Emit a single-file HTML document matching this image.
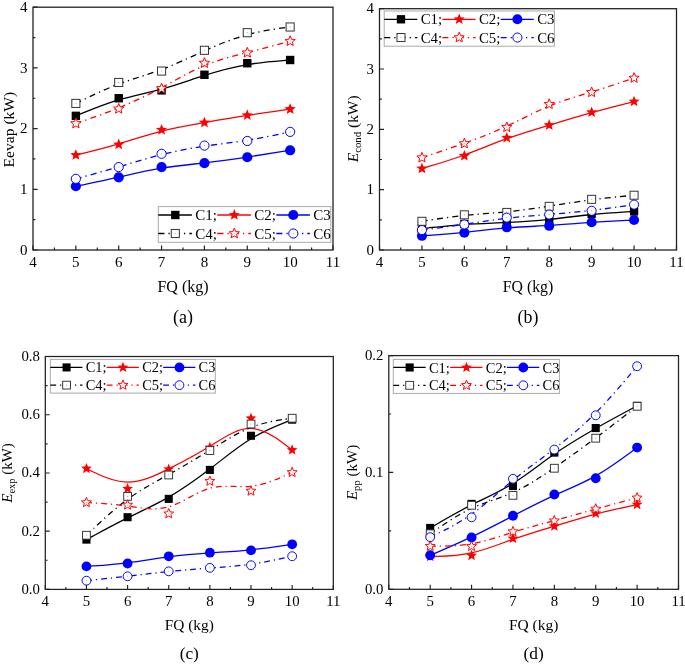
<!DOCTYPE html>
<html><head><meta charset="utf-8"><style>
html,body{margin:0;padding:0;background:#fff;width:685px;height:664px;overflow:hidden}
svg{display:block;will-change:transform}
text{font-family:"Liberation Serif", serif;fill:#000}
</style></head><body>
<svg width="685" height="664" viewBox="0 0 685 664">
<rect width="685" height="664" fill="#fff"/>
<g>
<path d="M75.86 115.85 C75.86 115.85 75.86 115.85 83 112.92 C90.14 109.99 104.43 104.12 118.71 99.87 C133 95.62 147.29 92.99 161.57 89.07 C175.86 85.16 190.14 79.96 204.43 75.44 C218.71 70.91 233 67.07 247.29 64.61 C261.57 62.15 275.86 61.08 283 60.55 C290.14 60.01 290.14 60.01 290.14 60.01" fill="none" stroke="#000000" stroke-width="1.3" stroke-linejoin="round"/>
<rect x="71.66" y="111.65" width="8.4" height="8.4" fill="#000000"/>
<rect x="114.51" y="94.05" width="8.4" height="8.4" fill="#000000"/>
<rect x="157.37" y="86.16" width="8.4" height="8.4" fill="#000000"/>
<rect x="200.23" y="70.56" width="8.4" height="8.4" fill="#000000"/>
<rect x="243.09" y="59.03" width="8.4" height="8.4" fill="#000000"/>
<rect x="285.94" y="55.81" width="8.4" height="8.4" fill="#000000"/>
<path d="M75.86 155.07 C75.86 155.07 75.86 155.07 83 153.3 C90.14 151.54 104.43 148.02 118.71 143.82 C133 139.61 147.29 134.71 161.57 131.05 C175.86 127.39 190.14 124.96 204.43 122.53 C218.71 120.1 233 117.67 247.29 115.45 C261.57 113.22 275.86 111.2 283 110.19 C290.14 109.18 290.14 109.18 290.14 109.18" fill="none" stroke="#FF0000" stroke-width="1.3" stroke-linejoin="round"/>
<path d="M75.86 149.17 L77.38 152.96 L81.47 153.24 L78.33 155.87 L79.33 159.84 L75.86 157.66 L72.39 159.84 L73.39 155.87 L70.25 153.24 L74.33 152.96Z" fill="#FF0000"/>
<path d="M118.71 138.6 L120.24 142.4 L124.33 142.68 L121.18 145.31 L122.18 149.28 L118.71 147.1 L115.25 149.28 L116.25 145.31 L113.1 142.68 L117.19 142.4Z" fill="#FF0000"/>
<path d="M161.57 123.91 L163.1 127.71 L167.18 127.99 L164.04 130.62 L165.04 134.59 L161.57 132.41 L158.1 134.59 L159.1 130.62 L155.96 127.99 L160.05 127.71Z" fill="#FF0000"/>
<path d="M204.43 116.63 L205.95 120.43 L210.04 120.71 L206.9 123.33 L207.9 127.3 L204.43 125.13 L200.96 127.3 L201.96 123.33 L198.82 120.71 L202.9 120.43Z" fill="#FF0000"/>
<path d="M247.29 109.35 L248.81 113.15 L252.9 113.42 L249.75 116.05 L250.75 120.02 L247.29 117.84 L243.82 120.02 L244.82 116.05 L241.67 113.42 L245.76 113.15Z" fill="#FF0000"/>
<path d="M290.14 103.28 L291.67 107.08 L295.75 107.35 L292.61 109.98 L293.61 113.95 L290.14 111.77 L286.67 113.95 L287.67 109.98 L284.53 107.35 L288.62 107.08Z" fill="#FF0000"/>
<path d="M75.86 186.26 C75.86 186.26 75.86 186.26 83 184.77 C90.14 183.27 104.43 180.28 118.71 177.08 C133 173.88 147.29 170.48 161.57 168.14 C175.86 165.79 190.14 164.49 204.43 162.86 C218.71 161.22 233 159.23 247.29 157.08 C261.57 154.92 275.86 152.6 283 151.43 C290.14 150.27 290.14 150.27 290.14 150.27" fill="none" stroke="#0000FF" stroke-width="1.3" stroke-linejoin="round"/>
<circle cx="75.86" cy="186.26" r="5.1" fill="#0000FF"/>
<circle cx="118.71" cy="177.28" r="5.1" fill="#0000FF"/>
<circle cx="161.57" cy="167.08" r="5.1" fill="#0000FF"/>
<circle cx="204.43" cy="163.2" r="5.1" fill="#0000FF"/>
<circle cx="247.29" cy="157.25" r="5.1" fill="#0000FF"/>
<circle cx="290.14" cy="150.27" r="5.1" fill="#0000FF"/>
<path d="M75.86 103.41 C75.86 103.41 75.86 103.41 83 99.92 C90.14 96.43 104.43 89.45 118.71 84.06 C133 78.66 147.29 74.86 161.57 69.5 C175.86 64.14 190.14 57.22 204.43 50.82 C218.71 44.43 233 38.56 247.29 34.68 C261.57 30.79 275.86 28.89 283 27.94 C290.14 26.99 290.14 26.99 290.14 26.99" fill="none" stroke="#000000" stroke-width="1.3" stroke-dasharray="6.1 4.05 1.3 4.05" stroke-linejoin="round"/>
<rect x="71.81" y="99.36" width="8.1" height="8.1" fill="#fff" stroke="#333" stroke-width="1"/><rect x="75.36" y="102.91" width="1" height="1" fill="#aaa"/>
<rect x="114.66" y="78.42" width="8.1" height="8.1" fill="#fff" stroke="#333" stroke-width="1"/><rect x="118.21" y="81.97" width="1" height="1" fill="#aaa"/>
<rect x="157.52" y="67.01" width="8.1" height="8.1" fill="#fff" stroke="#333" stroke-width="1"/><rect x="161.07" y="70.56" width="1" height="1" fill="#aaa"/>
<rect x="200.38" y="46.25" width="8.1" height="8.1" fill="#fff" stroke="#333" stroke-width="1"/><rect x="203.93" y="49.8" width="1" height="1" fill="#aaa"/>
<rect x="243.24" y="28.64" width="8.1" height="8.1" fill="#fff" stroke="#333" stroke-width="1"/><rect x="246.79" y="32.19" width="1" height="1" fill="#aaa"/>
<rect x="286.09" y="22.94" width="8.1" height="8.1" fill="#fff" stroke="#333" stroke-width="1"/><rect x="289.64" y="26.49" width="1" height="1" fill="#aaa"/>
<path d="M75.86 123.5 C75.86 123.5 75.86 123.5 83 121.05 C90.14 118.6 104.43 113.71 118.71 107.88 C133 102.05 147.29 95.3 161.57 87.67 C175.86 80.04 190.14 71.54 204.43 65.57 C218.71 59.6 233 56.16 247.29 52.52 C261.57 48.88 275.86 45.04 283 43.11 C290.14 41.19 290.14 41.19 290.14 41.19" fill="none" stroke="#FF0000" stroke-width="1.3" stroke-dasharray="6.1 4.05 1.3 4.05" stroke-linejoin="round"/>
<path d="M75.86 118.1 L77.25 121.58 L80.99 121.83 L78.12 124.24 L79.03 127.87 L75.86 125.88 L72.68 127.87 L73.6 124.24 L70.72 121.83 L74.46 121.58Z" fill="#fff" stroke="#FF0000" stroke-width="1" stroke-linejoin="miter"/><rect x="75.36" y="123" width="1" height="1" fill="#faa"/>
<path d="M118.71 103.41 L120.11 106.89 L123.85 107.14 L120.97 109.55 L121.89 113.18 L118.71 111.19 L115.54 113.18 L116.45 109.55 L113.58 107.14 L117.32 106.89Z" fill="#fff" stroke="#FF0000" stroke-width="1" stroke-linejoin="miter"/><rect x="118.21" y="108.31" width="1" height="1" fill="#faa"/>
<path d="M161.57 83.14 L162.97 86.62 L166.71 86.87 L163.83 89.27 L164.75 92.91 L161.57 90.91 L158.4 92.91 L159.31 89.27 L156.44 86.87 L160.17 86.62Z" fill="#fff" stroke="#FF0000" stroke-width="1" stroke-linejoin="miter"/><rect x="161.07" y="88.04" width="1" height="1" fill="#faa"/>
<path d="M204.43 57.64 L205.83 61.12 L209.56 61.38 L206.69 63.78 L207.6 67.41 L204.43 65.42 L201.25 67.41 L202.17 63.78 L199.29 61.38 L203.03 61.12Z" fill="#fff" stroke="#FF0000" stroke-width="1" stroke-linejoin="miter"/><rect x="203.93" y="62.54" width="1" height="1" fill="#faa"/>
<path d="M247.29 47.32 L248.68 50.8 L252.42 51.06 L249.55 53.46 L250.46 57.09 L247.29 55.1 L244.11 57.09 L245.03 53.46 L242.15 51.06 L245.89 50.8Z" fill="#fff" stroke="#FF0000" stroke-width="1" stroke-linejoin="miter"/><rect x="246.79" y="52.22" width="1" height="1" fill="#faa"/>
<path d="M290.14 35.79 L291.54 39.27 L295.28 39.52 L292.4 41.93 L293.32 45.56 L290.14 43.57 L286.97 45.56 L287.88 41.93 L285.01 39.52 L288.75 39.27Z" fill="#fff" stroke="#FF0000" stroke-width="1" stroke-linejoin="miter"/><rect x="289.64" y="40.69" width="1" height="1" fill="#faa"/>
<path d="M75.86 178.86 C75.86 178.86 75.86 178.86 83 176.9 C90.14 174.93 104.43 171.01 118.71 166.83 C133 162.65 147.29 158.22 161.57 154.64 C175.86 151.06 190.14 148.33 204.43 146.19 C218.71 144.06 233 142.52 247.29 140.23 C261.57 137.95 275.86 134.91 283 133.4 C290.14 131.88 290.14 131.88 290.14 131.88" fill="none" stroke="#0000FF" stroke-width="1.3" stroke-dasharray="6.1 4.05 1.3 4.05" stroke-linejoin="round"/>
<circle cx="75.86" cy="178.86" r="4.6" fill="#fff" stroke="#0000FF" stroke-width="1"/><rect x="75.36" y="178.36" width="1" height="1" fill="#aaf"/>
<circle cx="118.71" cy="167.08" r="4.6" fill="#fff" stroke="#0000FF" stroke-width="1"/><rect x="118.21" y="166.58" width="1" height="1" fill="#aaf"/>
<circle cx="161.57" cy="153.79" r="4.6" fill="#fff" stroke="#0000FF" stroke-width="1"/><rect x="161.07" y="153.29" width="1" height="1" fill="#aaf"/>
<circle cx="204.43" cy="145.6" r="4.6" fill="#fff" stroke="#0000FF" stroke-width="1"/><rect x="203.93" y="145.1" width="1" height="1" fill="#aaf"/>
<circle cx="247.29" cy="140.98" r="4.6" fill="#fff" stroke="#0000FF" stroke-width="1"/><rect x="246.79" y="140.48" width="1" height="1" fill="#aaf"/>
<circle cx="290.14" cy="131.88" r="4.6" fill="#fff" stroke="#0000FF" stroke-width="1"/><rect x="289.64" y="131.38" width="1" height="1" fill="#aaf"/>
</g>
<rect x="33" y="7.2" width="300" height="242.8" fill="none" stroke="#222" stroke-width="1.3"/>
<path d="M33 250V245.4 M75.86 250V245.4 M118.71 250V245.4 M161.57 250V245.4 M204.43 250V245.4 M247.29 250V245.4 M290.14 250V245.4 M333 250V245.4 M54.43 250V247.6 M97.29 250V247.6 M140.14 250V247.6 M183 250V247.6 M225.86 250V247.6 M268.71 250V247.6 M311.57 250V247.6 M33 250H37.6 M33 189.3H37.6 M33 128.6H37.6 M33 67.9H37.6 M33 7.2H37.6 M33 219.65H35.4 M33 158.95H35.4 M33 98.25H35.4 M33 37.55H35.4" stroke="#222" stroke-width="1.2" fill="none"/>
<text x="33" y="267" font-size="15" text-anchor="middle">4</text>
<text x="75.86" y="267" font-size="15" text-anchor="middle">5</text>
<text x="118.71" y="267" font-size="15" text-anchor="middle">6</text>
<text x="161.57" y="267" font-size="15" text-anchor="middle">7</text>
<text x="204.43" y="267" font-size="15" text-anchor="middle">8</text>
<text x="247.29" y="267" font-size="15" text-anchor="middle">9</text>
<text x="290.14" y="267" font-size="15" text-anchor="middle">10</text>
<text x="333" y="267" font-size="15" text-anchor="middle">11</text>
<text x="27.4" y="254.6" font-size="15" text-anchor="end">0</text>
<text x="27.4" y="193.9" font-size="15" text-anchor="end">1</text>
<text x="27.4" y="133.2" font-size="15" text-anchor="end">2</text>
<text x="27.4" y="72.5" font-size="15" text-anchor="end">3</text>
<text x="27.4" y="11.8" font-size="15" text-anchor="end">4</text>
<text x="183" y="292.2" font-size="16" text-anchor="middle">FQ (kg)</text>
<text x="183" y="323.4" font-size="18" text-anchor="middle">(a)</text>
<text transform="translate(13.8 129.6) rotate(-90)" font-size="15.6" text-anchor="middle">Eevap (kW)</text>
<rect x="158.3" y="206.6" width="172.5" height="35.7" fill="#fff" stroke="#aaa" stroke-width="1"/>
<path d="M158.3 215H191.9" stroke="#000000" stroke-width="1.3"/>
<rect x="171.1" y="210.8" width="8.4" height="8.4" fill="#000000"/>
<text x="195.3" y="220.2" font-size="15">C1;</text>
<path d="M217.3 215H250.9" stroke="#FF0000" stroke-width="1.3"/>
<path d="M234.3 209.1 L235.83 212.9 L239.91 213.18 L236.77 215.8 L237.77 219.77 L234.3 217.6 L230.83 219.77 L231.83 215.8 L228.69 213.18 L232.77 212.9Z" fill="#FF0000"/>
<text x="254.3" y="220.2" font-size="15">C2;</text>
<path d="M276.3 215H309.9" stroke="#0000FF" stroke-width="1.3"/>
<circle cx="293.3" cy="215" r="5.1" fill="#0000FF"/>
<text x="313.3" y="220.2" font-size="15">C3</text>
<path d="M158.3 233.5H191.9" stroke="#000000" stroke-width="1.3" stroke-dasharray="6.1 4.05 1.3 4.05"/>
<rect x="171.25" y="229.45" width="8.1" height="8.1" fill="#fff" stroke="#333" stroke-width="1"/><rect x="174.8" y="233" width="1" height="1" fill="#aaa"/>
<text x="195.3" y="238.7" font-size="15">C4;</text>
<path d="M217.3 233.5H250.9" stroke="#FF0000" stroke-width="1.3" stroke-dasharray="6.1 4.05 1.3 4.05"/>
<path d="M234.3 228.1 L235.7 231.58 L239.44 231.83 L236.56 234.23 L237.47 237.87 L234.3 235.88 L231.13 237.87 L232.04 234.23 L229.16 231.83 L232.9 231.58Z" fill="#fff" stroke="#FF0000" stroke-width="1" stroke-linejoin="miter"/><rect x="233.8" y="233" width="1" height="1" fill="#faa"/>
<text x="254.3" y="238.7" font-size="15">C5;</text>
<path d="M276.3 233.5H309.9" stroke="#0000FF" stroke-width="1.3" stroke-dasharray="6.1 4.05 1.3 4.05"/>
<circle cx="293.3" cy="233.5" r="4.6" fill="#fff" stroke="#0000FF" stroke-width="1"/><rect x="292.8" y="233" width="1" height="1" fill="#aaf"/>
<text x="313.3" y="238.7" font-size="15">C6</text>
<g>
<path d="M421.93 228.52 C421.93 228.52 421.93 228.52 429 227.77 C436.07 227.02 450.21 225.51 464.36 224.54 C478.5 223.58 492.64 223.16 506.79 222.46 C520.93 221.77 535.07 220.8 549.21 219.33 C563.36 217.87 577.5 215.9 591.64 214.49 C605.79 213.08 619.93 212.24 627 211.81 C634.07 211.39 634.07 211.39 634.07 211.39" fill="none" stroke="#000000" stroke-width="1.29" stroke-linejoin="round"/>
<rect x="417.77" y="224.37" width="8.32" height="8.32" fill="#000000"/>
<rect x="460.2" y="219.84" width="8.32" height="8.32" fill="#000000"/>
<rect x="502.63" y="218.58" width="8.32" height="8.32" fill="#000000"/>
<rect x="545.06" y="215.68" width="8.32" height="8.32" fill="#000000"/>
<rect x="587.48" y="209.77" width="8.32" height="8.32" fill="#000000"/>
<rect x="629.91" y="207.23" width="8.32" height="8.32" fill="#000000"/>
<path d="M421.93 168.56 C421.93 168.56 421.93 168.56 429 166.45 C436.07 164.34 450.21 160.12 464.36 154.99 C478.5 149.86 492.64 143.83 506.79 138.71 C520.93 133.59 535.07 129.39 549.21 125.14 C563.36 120.88 577.5 116.58 591.64 112.64 C605.79 108.7 619.93 105.12 627 103.33 C634.07 101.54 634.07 101.54 634.07 101.54" fill="none" stroke="#FF0000" stroke-width="1.29" stroke-linejoin="round"/>
<path d="M421.93 162.72 L423.44 166.48 L427.48 166.76 L424.37 169.36 L425.36 173.29 L421.93 171.13 L418.5 173.29 L419.48 169.36 L416.37 166.76 L420.42 166.48Z" fill="#FF0000"/>
<path d="M464.36 150.05 L465.87 153.81 L469.91 154.09 L466.8 156.69 L467.79 160.62 L464.36 158.46 L460.92 160.62 L461.91 156.69 L458.8 154.09 L462.85 153.81Z" fill="#FF0000"/>
<path d="M506.79 131.95 L508.3 135.72 L512.34 135.99 L509.23 138.59 L510.22 142.52 L506.79 140.37 L503.35 142.52 L504.34 138.59 L501.23 135.99 L505.28 135.72Z" fill="#FF0000"/>
<path d="M549.21 119.35 L550.72 123.11 L554.77 123.38 L551.66 125.98 L552.65 129.91 L549.21 127.76 L545.78 129.91 L546.77 125.98 L543.66 123.38 L547.7 123.11Z" fill="#FF0000"/>
<path d="M591.64 106.44 L593.15 110.2 L597.2 110.47 L594.09 113.07 L595.08 117 L591.64 114.85 L588.21 117 L589.2 113.07 L586.09 110.47 L590.13 110.2Z" fill="#FF0000"/>
<path d="M634.07 95.7 L635.58 99.46 L639.63 99.74 L636.52 102.33 L637.5 106.27 L634.07 104.11 L630.64 106.27 L631.63 102.33 L628.52 99.74 L632.56 99.46Z" fill="#FF0000"/>
<path d="M421.93 235.82 C421.93 235.82 421.93 235.82 429 235.3 C436.07 234.78 450.21 233.73 464.36 232.31 C478.5 230.9 492.64 229.11 506.79 227.96 C520.93 226.82 535.07 226.31 549.21 225.47 C563.36 224.62 577.5 223.44 591.64 222.47 C605.79 221.51 619.93 220.76 627 220.39 C634.07 220.02 634.07 220.02 634.07 220.02" fill="none" stroke="#0000FF" stroke-width="1.29" stroke-linejoin="round"/>
<circle cx="421.93" cy="235.82" r="5.05" fill="#0000FF"/>
<circle cx="464.36" cy="232.69" r="5.05" fill="#0000FF"/>
<circle cx="506.79" cy="227.32" r="5.05" fill="#0000FF"/>
<circle cx="549.21" cy="225.81" r="5.05" fill="#0000FF"/>
<circle cx="591.64" cy="222.25" r="5.05" fill="#0000FF"/>
<circle cx="634.07" cy="220.02" r="5.05" fill="#0000FF"/>
<path d="M421.93 221.29 C421.93 221.29 421.93 221.29 429 220.21 C436.07 219.13 450.21 216.98 464.36 215.5 C478.5 214.03 492.64 213.22 506.79 211.8 C520.93 210.39 535.07 208.36 549.21 206.17 C563.36 203.99 577.5 201.66 591.64 199.81 C605.79 197.96 619.93 196.59 627 195.91 C634.07 195.22 634.07 195.22 634.07 195.22" fill="none" stroke="#000000" stroke-width="1.29" stroke-dasharray="6.04 4.01 1.29 4.01" stroke-linejoin="round"/>
<rect x="417.92" y="217.28" width="8.02" height="8.02" fill="#fff" stroke="#333" stroke-width="0.99"/><rect x="421.43" y="220.79" width="1" height="1" fill="#aaa"/>
<rect x="460.35" y="210.82" width="8.02" height="8.02" fill="#fff" stroke="#333" stroke-width="0.99"/><rect x="463.86" y="214.33" width="1" height="1" fill="#aaa"/>
<rect x="502.78" y="208.41" width="8.02" height="8.02" fill="#fff" stroke="#333" stroke-width="0.99"/><rect x="506.29" y="211.92" width="1" height="1" fill="#aaa"/>
<rect x="545.2" y="202.32" width="8.02" height="8.02" fill="#fff" stroke="#333" stroke-width="0.99"/><rect x="548.71" y="205.82" width="1" height="1" fill="#aaa"/>
<rect x="587.63" y="195.32" width="8.02" height="8.02" fill="#fff" stroke="#333" stroke-width="0.99"/><rect x="591.14" y="198.83" width="1" height="1" fill="#aaa"/>
<rect x="630.06" y="191.22" width="8.02" height="8.02" fill="#fff" stroke="#333" stroke-width="0.99"/><rect x="633.57" y="194.72" width="1" height="1" fill="#aaa"/>
<path d="M421.93 157.7 C421.93 157.7 421.93 157.7 429 155.35 C436.07 153 450.21 148.29 464.36 143.22 C478.5 138.16 492.64 132.73 506.79 126.16 C520.93 119.6 535.07 111.9 549.21 106.06 C563.36 100.23 577.5 96.27 591.64 91.91 C605.79 87.54 619.93 82.78 627 80.4 C634.07 78.01 634.07 78.01 634.07 78.01" fill="none" stroke="#FF0000" stroke-width="1.29" stroke-dasharray="6.04 4.01 1.29 4.01" stroke-linejoin="round"/>
<path d="M421.93 152.36 L423.31 155.8 L427.01 156.05 L424.17 158.43 L425.07 162.03 L421.93 160.05 L418.79 162.03 L419.69 158.43 L416.84 156.05 L420.55 155.8Z" fill="#fff" stroke="#FF0000" stroke-width="0.99" stroke-linejoin="miter"/><rect x="421.43" y="157.2" width="1" height="1" fill="#faa"/>
<path d="M464.36 138.24 L465.74 141.68 L469.44 141.93 L466.59 144.31 L467.5 147.91 L464.36 145.94 L461.21 147.91 L462.12 144.31 L459.27 141.93 L462.97 141.68Z" fill="#fff" stroke="#FF0000" stroke-width="0.99" stroke-linejoin="miter"/><rect x="463.86" y="143.09" width="1" height="1" fill="#faa"/>
<path d="M506.79 121.95 L508.17 125.4 L511.87 125.65 L509.02 128.03 L509.93 131.62 L506.79 129.65 L503.64 131.62 L504.55 128.03 L501.7 125.65 L505.4 125.4Z" fill="#fff" stroke="#FF0000" stroke-width="0.99" stroke-linejoin="miter"/><rect x="506.29" y="126.8" width="1" height="1" fill="#faa"/>
<path d="M549.21 98.85 L550.6 102.29 L554.3 102.54 L551.45 104.92 L552.36 108.52 L549.21 106.55 L546.07 108.52 L546.98 104.92 L544.13 102.54 L547.83 102.29Z" fill="#fff" stroke="#FF0000" stroke-width="0.99" stroke-linejoin="miter"/><rect x="548.71" y="103.69" width="1" height="1" fill="#faa"/>
<path d="M591.64 86.96 L593.03 90.41 L596.73 90.66 L593.88 93.04 L594.79 96.64 L591.64 94.66 L588.5 96.64 L589.41 93.04 L586.56 90.66 L590.26 90.41Z" fill="#fff" stroke="#FF0000" stroke-width="0.99" stroke-linejoin="miter"/><rect x="591.14" y="91.81" width="1" height="1" fill="#faa"/>
<path d="M634.07 72.67 L635.45 76.11 L639.16 76.36 L636.31 78.74 L637.21 82.34 L634.07 80.37 L630.93 82.34 L631.83 78.74 L628.99 76.36 L632.69 76.11Z" fill="#fff" stroke="#FF0000" stroke-width="0.99" stroke-linejoin="miter"/><rect x="633.57" y="77.51" width="1" height="1" fill="#faa"/>
<path d="M421.93 230.09 C421.93 230.09 421.93 230.09 429 229.16 C436.07 228.22 450.21 226.35 464.36 224.27 C478.5 222.19 492.64 219.9 506.79 218.24 C520.93 216.58 535.07 215.55 549.21 214.42 C563.36 213.28 577.5 212.04 591.64 210.39 C605.79 208.74 619.93 206.69 627 205.66 C634.07 204.64 634.07 204.64 634.07 204.64" fill="none" stroke="#0000FF" stroke-width="1.29" stroke-dasharray="6.04 4.01 1.29 4.01" stroke-linejoin="round"/>
<circle cx="421.93" cy="230.09" r="4.55" fill="#fff" stroke="#0000FF" stroke-width="0.99"/><rect x="421.43" y="229.59" width="1" height="1" fill="#aaf"/>
<circle cx="464.36" cy="224.48" r="4.55" fill="#fff" stroke="#0000FF" stroke-width="0.99"/><rect x="463.86" y="223.98" width="1" height="1" fill="#aaf"/>
<circle cx="506.79" cy="217.61" r="4.55" fill="#fff" stroke="#0000FF" stroke-width="0.99"/><rect x="506.29" y="217.11" width="1" height="1" fill="#aaf"/>
<circle cx="549.21" cy="214.53" r="4.55" fill="#fff" stroke="#0000FF" stroke-width="0.99"/><rect x="548.71" y="214.03" width="1" height="1" fill="#aaf"/>
<circle cx="591.64" cy="210.79" r="4.55" fill="#fff" stroke="#0000FF" stroke-width="0.99"/><rect x="591.14" y="210.29" width="1" height="1" fill="#aaf"/>
<circle cx="634.07" cy="204.64" r="4.55" fill="#fff" stroke="#0000FF" stroke-width="0.99"/><rect x="633.57" y="204.14" width="1" height="1" fill="#aaf"/>
</g>
<rect x="379.5" y="8.7" width="297" height="241.3" fill="none" stroke="#222" stroke-width="1.29"/>
<path d="M379.5 250V245.45 M421.93 250V245.45 M464.36 250V245.45 M506.79 250V245.45 M549.21 250V245.45 M591.64 250V245.45 M634.07 250V245.45 M676.5 250V245.45 M400.71 250V247.62 M443.14 250V247.62 M485.57 250V247.62 M528 250V247.62 M570.43 250V247.62 M612.86 250V247.62 M655.29 250V247.62 M379.5 250H384.05 M379.5 189.68H384.05 M379.5 129.35H384.05 M379.5 69.02H384.05 M379.5 8.7H384.05 M379.5 219.84H381.88 M379.5 159.51H381.88 M379.5 99.19H381.88 M379.5 38.86H381.88" stroke="#222" stroke-width="1.19" fill="none"/>
<text x="379.5" y="266.83" font-size="14.85" text-anchor="middle">4</text>
<text x="421.93" y="266.83" font-size="14.85" text-anchor="middle">5</text>
<text x="464.36" y="266.83" font-size="14.85" text-anchor="middle">6</text>
<text x="506.79" y="266.83" font-size="14.85" text-anchor="middle">7</text>
<text x="549.21" y="266.83" font-size="14.85" text-anchor="middle">8</text>
<text x="591.64" y="266.83" font-size="14.85" text-anchor="middle">9</text>
<text x="634.07" y="266.83" font-size="14.85" text-anchor="middle">10</text>
<text x="676.5" y="266.83" font-size="14.85" text-anchor="middle">11</text>
<text x="373.96" y="254.55" font-size="14.85" text-anchor="end">0</text>
<text x="373.96" y="194.23" font-size="14.85" text-anchor="end">1</text>
<text x="373.96" y="133.9" font-size="14.85" text-anchor="end">2</text>
<text x="373.96" y="73.58" font-size="14.85" text-anchor="end">3</text>
<text x="373.96" y="13.25" font-size="14.85" text-anchor="end">4</text>
<text x="528" y="291.78" font-size="15.84" text-anchor="middle">FQ (kg)</text>
<text x="528" y="322.67" font-size="17.82" text-anchor="middle">(b)</text>
<text transform="translate(358.1 128.85) rotate(-90)" font-size="15.44" text-anchor="middle"><tspan font-style="italic">E</tspan><tspan font-size="10.81" dy="3.17">cond</tspan><tspan dy="-3.17"> (kW)</tspan></text>
<rect x="384.2" y="11" width="170.2" height="35.2" fill="#fff" stroke="#aaa" stroke-width="1"/>
<path d="M384.2 19.29H417.35" stroke="#000000" stroke-width="1.29"/>
<rect x="396.82" y="15.13" width="8.32" height="8.32" fill="#000000"/>
<text x="420.71" y="24.42" font-size="14.85">C1;</text>
<path d="M442.41 19.29H475.57" stroke="#FF0000" stroke-width="1.29"/>
<path d="M459.19 13.45 L460.7 17.21 L464.74 17.48 L461.63 20.08 L462.62 24.01 L459.19 21.86 L455.75 24.01 L456.74 20.08 L453.63 17.48 L457.68 17.21Z" fill="#FF0000"/>
<text x="478.92" y="24.42" font-size="14.85">C2;</text>
<path d="M500.63 19.29H533.78" stroke="#0000FF" stroke-width="1.29"/>
<circle cx="517.4" cy="19.29" r="5.05" fill="#0000FF"/>
<text x="537.13" y="24.42" font-size="14.85">C3</text>
<path d="M384.2 37.54H417.35" stroke="#000000" stroke-width="1.29" stroke-dasharray="6.04 4.01 1.29 4.01"/>
<rect x="396.96" y="33.53" width="8.02" height="8.02" fill="#fff" stroke="#333" stroke-width="0.99"/><rect x="400.47" y="37.04" width="1" height="1" fill="#aaa"/>
<text x="420.71" y="42.67" font-size="14.85">C4;</text>
<path d="M442.41 37.54H475.57" stroke="#FF0000" stroke-width="1.29" stroke-dasharray="6.04 4.01 1.29 4.01"/>
<path d="M459.19 32.2 L460.57 35.64 L464.27 35.89 L461.42 38.27 L462.33 41.87 L459.19 39.89 L456.04 41.87 L456.95 38.27 L454.1 35.89 L457.8 35.64Z" fill="#fff" stroke="#FF0000" stroke-width="0.99" stroke-linejoin="miter"/><rect x="458.69" y="37.04" width="1" height="1" fill="#faa"/>
<text x="478.92" y="42.67" font-size="14.85">C5;</text>
<path d="M500.63 37.54H533.78" stroke="#0000FF" stroke-width="1.29" stroke-dasharray="6.04 4.01 1.29 4.01"/>
<circle cx="517.4" cy="37.54" r="4.55" fill="#fff" stroke="#0000FF" stroke-width="0.99"/><rect x="516.9" y="37.04" width="1" height="1" fill="#aaf"/>
<text x="537.13" y="42.67" font-size="14.85">C6</text>
<g>
<path d="M86.44 539.62 C86.44 539.62 86.44 539.62 93.3 535.88 C100.16 532.15 113.87 524.67 127.59 517.88 C141.3 511.09 155.01 504.97 168.73 497.09 C182.44 489.2 196.16 479.55 209.87 469.03 C223.59 458.52 237.3 447.15 251.01 438.78 C264.73 430.41 278.44 425.04 285.3 422.36 C292.16 419.67 292.16 419.67 292.16 419.67" fill="none" stroke="#000000" stroke-width="1.25" stroke-linejoin="round"/>
<rect x="82.41" y="535.59" width="8.06" height="8.06" fill="#000000"/>
<rect x="123.55" y="513.17" width="8.06" height="8.06" fill="#000000"/>
<rect x="164.7" y="494.83" width="8.06" height="8.06" fill="#000000"/>
<rect x="205.84" y="465.86" width="8.06" height="8.06" fill="#000000"/>
<rect x="246.98" y="431.74" width="8.06" height="8.06" fill="#000000"/>
<rect x="288.13" y="415.64" width="8.06" height="8.06" fill="#000000"/>
<path d="M86.44 468.58 C86.44 468.58 86.44 468.58 93.3 471.95 C100.16 475.32 113.87 482.05 127.59 482.15 C141.3 482.25 155.01 475.71 168.73 468.82 C182.44 461.94 196.16 454.71 209.87 446.24 C223.59 437.77 237.3 428.07 251.01 428.48 C264.73 428.89 278.44 439.42 285.3 444.69 C292.16 449.95 292.16 449.95 292.16 449.95" fill="none" stroke="#FF0000" stroke-width="1.25" stroke-linejoin="round"/>
<path d="M86.44 462.92 L87.91 466.57 L91.83 466.83 L88.81 469.35 L89.77 473.17 L86.44 471.08 L83.11 473.17 L84.07 469.35 L81.06 466.83 L84.98 466.57Z" fill="#FF0000"/>
<path d="M127.59 483.12 L129.05 486.77 L132.97 487.04 L129.96 489.56 L130.91 493.37 L127.59 491.28 L124.26 493.37 L125.22 489.56 L122.2 487.04 L126.12 486.77Z" fill="#FF0000"/>
<path d="M168.73 463.5 L170.19 467.15 L174.12 467.42 L171.1 469.94 L172.06 473.75 L168.73 471.66 L165.4 473.75 L166.36 469.94 L163.34 467.42 L167.26 467.15Z" fill="#FF0000"/>
<path d="M209.87 441.81 L211.34 445.46 L215.26 445.73 L212.24 448.25 L213.2 452.06 L209.87 449.97 L206.54 452.06 L207.5 448.25 L204.48 445.73 L208.41 445.46Z" fill="#FF0000"/>
<path d="M251.01 412.7 L252.48 416.35 L256.4 416.61 L253.38 419.13 L254.34 422.95 L251.01 420.86 L247.69 422.95 L248.64 419.13 L245.63 416.61 L249.55 416.35Z" fill="#FF0000"/>
<path d="M292.16 444.29 L293.62 447.93 L297.54 448.2 L294.53 450.72 L295.49 454.53 L292.16 452.44 L288.83 454.53 L289.79 450.72 L286.77 448.2 L290.69 447.93Z" fill="#FF0000"/>
<path d="M86.44 566.4 C86.44 566.4 86.44 566.4 93.3 565.92 C100.16 565.43 113.87 564.46 127.59 562.78 C141.3 561.09 155.01 558.7 168.73 556.9 C182.44 555.11 196.16 553.91 209.87 552.93 C223.59 551.94 237.3 551.17 251.01 549.76 C264.73 548.35 278.44 546.31 285.3 545.29 C292.16 544.28 292.16 544.28 292.16 544.28" fill="none" stroke="#0000FF" stroke-width="1.25" stroke-linejoin="round"/>
<circle cx="86.44" cy="566.4" r="4.9" fill="#0000FF"/>
<circle cx="127.59" cy="563.49" r="4.9" fill="#0000FF"/>
<circle cx="168.73" cy="556.3" r="4.9" fill="#0000FF"/>
<circle cx="209.87" cy="552.72" r="4.9" fill="#0000FF"/>
<circle cx="251.01" cy="550.39" r="4.9" fill="#0000FF"/>
<circle cx="292.16" cy="544.28" r="4.9" fill="#0000FF"/>
<path d="M86.44 535.25 C86.44 535.25 86.44 535.25 93.3 528.77 C100.16 522.3 113.87 509.34 127.59 499.3 C141.3 489.25 155.01 482.12 168.73 474.48 C182.44 466.84 196.16 458.68 209.87 450.19 C223.59 441.7 237.3 432.87 251.01 427.49 C264.73 422.1 278.44 420.16 285.3 419.19 C292.16 418.22 292.16 418.22 292.16 418.22" fill="none" stroke="#000000" stroke-width="1.25" stroke-dasharray="5.86 3.89 1.25 3.89" stroke-linejoin="round"/>
<rect x="82.55" y="531.36" width="7.78" height="7.78" fill="#fff" stroke="#333" stroke-width="0.96"/><rect x="85.94" y="534.75" width="1" height="1" fill="#aaa"/>
<rect x="123.7" y="492.5" width="7.78" height="7.78" fill="#fff" stroke="#333" stroke-width="0.96"/><rect x="127.09" y="495.89" width="1" height="1" fill="#aaa"/>
<rect x="164.84" y="471.1" width="7.78" height="7.78" fill="#fff" stroke="#333" stroke-width="0.96"/><rect x="168.23" y="474.49" width="1" height="1" fill="#aaa"/>
<rect x="205.98" y="446.65" width="7.78" height="7.78" fill="#fff" stroke="#333" stroke-width="0.96"/><rect x="209.37" y="450.03" width="1" height="1" fill="#aaa"/>
<rect x="247.13" y="420.15" width="7.78" height="7.78" fill="#fff" stroke="#333" stroke-width="0.96"/><rect x="250.51" y="423.54" width="1" height="1" fill="#aaa"/>
<rect x="288.27" y="414.33" width="7.78" height="7.78" fill="#fff" stroke="#333" stroke-width="0.96"/><rect x="291.66" y="417.72" width="1" height="1" fill="#aaa"/>
<path d="M86.44 502.5 C86.44 502.5 86.44 502.5 93.3 502.91 C100.16 503.32 113.87 504.15 127.59 506.02 C141.3 507.88 155.01 510.8 168.73 506.83 C182.44 502.87 196.16 492.03 209.87 488.24 C223.59 484.46 237.3 487.73 251.01 486.26 C264.73 484.79 278.44 478.58 285.3 475.47 C292.16 472.37 292.16 472.37 292.16 472.37" fill="none" stroke="#FF0000" stroke-width="1.25" stroke-dasharray="5.86 3.89 1.25 3.89" stroke-linejoin="round"/>
<path d="M86.44 497.32 L87.78 500.65 L91.37 500.9 L88.61 503.2 L89.49 506.69 L86.44 504.78 L83.4 506.69 L84.27 503.2 L81.51 500.9 L85.1 500.65Z" fill="#fff" stroke="#FF0000" stroke-width="0.96" stroke-linejoin="miter"/><rect x="85.94" y="502" width="1" height="1" fill="#faa"/>
<path d="M127.59 499.79 L128.93 503.13 L132.52 503.37 L129.76 505.68 L130.63 509.17 L127.59 507.25 L124.54 509.17 L125.42 505.68 L122.66 503.37 L126.24 503.13Z" fill="#fff" stroke="#FF0000" stroke-width="0.96" stroke-linejoin="miter"/><rect x="127.09" y="504.47" width="1" height="1" fill="#faa"/>
<path d="M168.73 508.52 L170.07 511.86 L173.66 512.11 L170.9 514.41 L171.78 517.9 L168.73 515.99 L165.68 517.9 L166.56 514.41 L163.8 512.11 L167.39 511.86Z" fill="#fff" stroke="#FF0000" stroke-width="0.96" stroke-linejoin="miter"/><rect x="168.23" y="513.21" width="1" height="1" fill="#faa"/>
<path d="M209.87 476 L211.21 479.34 L214.8 479.59 L212.04 481.89 L212.92 485.38 L209.87 483.47 L206.82 485.38 L207.7 481.89 L204.94 479.59 L208.53 479.34Z" fill="#fff" stroke="#FF0000" stroke-width="0.96" stroke-linejoin="miter"/><rect x="209.37" y="480.69" width="1" height="1" fill="#faa"/>
<path d="M251.01 485.82 L252.36 489.15 L255.94 489.4 L253.18 491.7 L254.06 495.19 L251.01 493.28 L247.97 495.19 L248.84 491.7 L246.08 489.4 L249.67 489.15Z" fill="#fff" stroke="#FF0000" stroke-width="0.96" stroke-linejoin="miter"/><rect x="250.51" y="490.5" width="1" height="1" fill="#faa"/>
<path d="M292.16 467.18 L293.5 470.52 L297.09 470.77 L294.33 473.07 L295.2 476.56 L292.16 474.65 L289.11 476.56 L289.99 473.07 L287.23 470.77 L290.82 470.52Z" fill="#fff" stroke="#FF0000" stroke-width="0.96" stroke-linejoin="miter"/><rect x="291.66" y="471.87" width="1" height="1" fill="#faa"/>
<path d="M86.44 580.67 C86.44 580.67 86.44 580.67 93.3 579.94 C100.16 579.21 113.87 577.75 127.59 576.2 C141.3 574.65 155.01 573 168.73 571.59 C182.44 570.19 196.16 569.02 209.87 568 C223.59 566.98 237.3 566.11 251.01 564.17 C264.73 562.23 278.44 559.22 285.3 557.72 C292.16 556.21 292.16 556.21 292.16 556.21" fill="none" stroke="#0000FF" stroke-width="1.25" stroke-dasharray="5.86 3.89 1.25 3.89" stroke-linejoin="round"/>
<circle cx="86.44" cy="580.67" r="4.42" fill="#fff" stroke="#0000FF" stroke-width="0.96"/><rect x="85.94" y="580.17" width="1" height="1" fill="#aaf"/>
<circle cx="127.59" cy="576.3" r="4.42" fill="#fff" stroke="#0000FF" stroke-width="0.96"/><rect x="127.09" y="575.8" width="1" height="1" fill="#aaf"/>
<circle cx="168.73" cy="571.35" r="4.42" fill="#fff" stroke="#0000FF" stroke-width="0.96"/><rect x="168.23" y="570.85" width="1" height="1" fill="#aaf"/>
<circle cx="209.87" cy="567.86" r="4.42" fill="#fff" stroke="#0000FF" stroke-width="0.96"/><rect x="209.37" y="567.36" width="1" height="1" fill="#aaf"/>
<circle cx="251.01" cy="565.24" r="4.42" fill="#fff" stroke="#0000FF" stroke-width="0.96"/><rect x="250.51" y="564.74" width="1" height="1" fill="#aaf"/>
<circle cx="292.16" cy="556.21" r="4.42" fill="#fff" stroke="#0000FF" stroke-width="0.96"/><rect x="291.66" y="555.71" width="1" height="1" fill="#aaf"/>
</g>
<rect x="45.3" y="356.5" width="288" height="232.9" fill="none" stroke="#222" stroke-width="1.25"/>
<path d="M45.3 589.4V584.98 M86.44 589.4V584.98 M127.59 589.4V584.98 M168.73 589.4V584.98 M209.87 589.4V584.98 M251.01 589.4V584.98 M292.16 589.4V584.98 M333.3 589.4V584.98 M65.87 589.4V587.1 M107.01 589.4V587.1 M148.16 589.4V587.1 M189.3 589.4V587.1 M230.44 589.4V587.1 M271.59 589.4V587.1 M312.73 589.4V587.1 M45.3 589.4H49.72 M45.3 531.17H49.72 M45.3 472.95H49.72 M45.3 414.73H49.72 M45.3 356.5H49.72 M45.3 560.29H47.6 M45.3 502.06H47.6 M45.3 443.84H47.6 M45.3 385.61H47.6" stroke="#222" stroke-width="1.15" fill="none"/>
<text x="45.3" y="605.72" font-size="14.8" text-anchor="middle">4</text>
<text x="86.44" y="605.72" font-size="14.8" text-anchor="middle">5</text>
<text x="127.59" y="605.72" font-size="14.8" text-anchor="middle">6</text>
<text x="168.73" y="605.72" font-size="14.8" text-anchor="middle">7</text>
<text x="209.87" y="605.72" font-size="14.8" text-anchor="middle">8</text>
<text x="251.01" y="605.72" font-size="14.8" text-anchor="middle">9</text>
<text x="292.16" y="605.72" font-size="14.8" text-anchor="middle">10</text>
<text x="333.3" y="605.72" font-size="14.8" text-anchor="middle">11</text>
<text x="39.92" y="593.82" font-size="14.8" text-anchor="end">0.0</text>
<text x="39.92" y="535.59" font-size="14.8" text-anchor="end">0.2</text>
<text x="39.92" y="477.37" font-size="14.8" text-anchor="end">0.4</text>
<text x="39.92" y="419.14" font-size="14.8" text-anchor="end">0.6</text>
<text x="39.92" y="360.92" font-size="14.8" text-anchor="end">0.8</text>
<text x="189.3" y="629.91" font-size="15.36" text-anchor="middle">FQ (kg)</text>
<text x="189.3" y="658.86" font-size="17.28" text-anchor="middle">(c)</text>
<text transform="translate(12 472.95) rotate(-90)" font-size="14.98" text-anchor="middle"><tspan font-style="italic">E</tspan><tspan font-size="10.48" dy="3.07">exp</tspan><tspan dy="-3.07"> (kW)</tspan></text>
<rect x="50.3" y="359.4" width="165" height="33.7" fill="#fff" stroke="#aaa" stroke-width="1"/>
<path d="M50.3 367.43H82.44" stroke="#000000" stroke-width="1.25"/>
<rect x="62.53" y="363.4" width="8.06" height="8.06" fill="#000000"/>
<text x="85.69" y="372.41" font-size="14.4">C1;</text>
<path d="M106.73 367.43H138.87" stroke="#FF0000" stroke-width="1.25"/>
<path d="M123 361.77 L124.46 365.42 L128.38 365.68 L125.37 368.2 L126.32 372.02 L123 369.93 L119.67 372.02 L120.63 368.2 L117.61 365.68 L121.53 365.42Z" fill="#FF0000"/>
<text x="142.13" y="372.41" font-size="14.4">C2;</text>
<path d="M163.17 367.43H195.31" stroke="#0000FF" stroke-width="1.25"/>
<circle cx="179.43" cy="367.43" r="4.9" fill="#0000FF"/>
<text x="198.56" y="372.41" font-size="14.4">C3</text>
<path d="M50.3 385.13H82.44" stroke="#000000" stroke-width="1.25" stroke-dasharray="5.86 3.89 1.25 3.89"/>
<rect x="62.67" y="381.24" width="7.78" height="7.78" fill="#fff" stroke="#333" stroke-width="0.96"/><rect x="66.06" y="384.63" width="1" height="1" fill="#aaa"/>
<text x="85.69" y="390.1" font-size="14.4">C4;</text>
<path d="M106.73 385.13H138.87" stroke="#FF0000" stroke-width="1.25" stroke-dasharray="5.86 3.89 1.25 3.89"/>
<path d="M123 379.95 L124.34 383.29 L127.93 383.53 L125.16 385.84 L126.04 389.32 L123 387.41 L119.95 389.32 L120.83 385.84 L118.07 383.53 L121.65 383.29Z" fill="#fff" stroke="#FF0000" stroke-width="0.96" stroke-linejoin="miter"/><rect x="122.5" y="384.63" width="1" height="1" fill="#faa"/>
<text x="142.13" y="390.1" font-size="14.4">C5;</text>
<path d="M163.17 385.13H195.31" stroke="#0000FF" stroke-width="1.25" stroke-dasharray="5.86 3.89 1.25 3.89"/>
<circle cx="179.43" cy="385.13" r="4.42" fill="#fff" stroke="#0000FF" stroke-width="0.96"/><rect x="178.93" y="384.63" width="1" height="1" fill="#aaf"/>
<text x="198.56" y="390.1" font-size="14.4">C6</text>
<g>
<path d="M430.19 527.95 C430.19 527.95 430.19 527.95 437.08 523.94 C443.98 519.93 457.78 511.91 471.57 504.91 C485.37 497.92 499.16 491.96 512.96 483.41 C526.75 474.86 540.55 463.73 554.34 454.07 C568.14 444.41 581.93 436.23 595.73 428.44 C609.52 420.65 623.32 413.25 630.22 409.55 C637.11 405.85 637.11 405.85 637.11 405.85" fill="none" stroke="#000000" stroke-width="1.26" stroke-linejoin="round"/>
<rect x="426.13" y="523.9" width="8.11" height="8.11" fill="#000000"/>
<rect x="467.51" y="499.83" width="8.11" height="8.11" fill="#000000"/>
<rect x="508.9" y="481.95" width="8.11" height="8.11" fill="#000000"/>
<rect x="550.29" y="448.53" width="8.11" height="8.11" fill="#000000"/>
<rect x="591.67" y="423.99" width="8.11" height="8.11" fill="#000000"/>
<rect x="633.06" y="401.79" width="8.11" height="8.11" fill="#000000"/>
<path d="M430.19 556.58 C430.19 556.58 430.19 556.58 437.08 556.41 C443.98 556.23 457.78 555.88 471.57 552.86 C485.37 549.84 499.16 544.16 512.96 539.27 C526.75 534.38 540.55 530.29 554.34 526.1 C568.14 521.92 581.93 517.63 595.73 514.03 C609.52 510.43 623.32 507.5 630.22 506.04 C637.11 504.58 637.11 504.58 637.11 504.58" fill="none" stroke="#FF0000" stroke-width="1.26" stroke-linejoin="round"/>
<path d="M430.19 550.88 L431.66 554.55 L435.61 554.82 L432.57 557.36 L433.54 561.19 L430.19 559.09 L426.84 561.19 L427.8 557.36 L424.77 554.82 L428.71 554.55Z" fill="#FF0000"/>
<path d="M471.57 549.83 L473.05 553.5 L476.99 553.77 L473.96 556.31 L474.92 560.14 L471.57 558.04 L468.22 560.14 L469.19 556.31 L466.15 553.77 L470.1 553.5Z" fill="#FF0000"/>
<path d="M512.96 532.77 L514.43 536.44 L518.38 536.71 L515.34 539.25 L516.31 543.08 L512.96 540.98 L509.61 543.08 L510.57 539.25 L507.54 536.71 L511.48 536.44Z" fill="#FF0000"/>
<path d="M554.34 520.5 L555.82 524.17 L559.76 524.44 L556.73 526.98 L557.69 530.81 L554.34 528.71 L550.99 530.81 L551.96 526.98 L548.92 524.44 L552.87 524.17Z" fill="#FF0000"/>
<path d="M595.73 507.65 L597.2 511.32 L601.15 511.59 L598.11 514.12 L599.08 517.96 L595.73 515.86 L592.38 517.96 L593.34 514.12 L590.31 511.59 L594.25 511.32Z" fill="#FF0000"/>
<path d="M637.11 498.88 L638.59 502.55 L642.53 502.82 L639.5 505.36 L640.46 509.19 L637.11 507.09 L633.76 509.19 L634.73 505.36 L631.69 502.82 L635.64 502.55Z" fill="#FF0000"/>
<path d="M430.19 555.3 C430.19 555.3 430.19 555.3 437.08 552.34 C443.98 549.38 457.78 543.46 471.57 536.87 C485.37 530.29 499.16 523.05 512.96 515.88 C526.75 508.71 540.55 501.62 554.34 495.37 C568.14 489.12 581.93 483.71 595.73 475.88 C609.52 468.05 623.32 457.8 630.22 452.68 C637.11 447.56 637.11 447.56 637.11 447.56" fill="none" stroke="#0000FF" stroke-width="1.26" stroke-linejoin="round"/>
<circle cx="430.19" cy="555.3" r="4.93" fill="#0000FF"/>
<circle cx="471.57" cy="537.54" r="4.93" fill="#0000FF"/>
<circle cx="512.96" cy="515.8" r="4.93" fill="#0000FF"/>
<circle cx="554.34" cy="494.53" r="4.93" fill="#0000FF"/>
<circle cx="595.73" cy="478.29" r="4.93" fill="#0000FF"/>
<circle cx="637.11" cy="447.56" r="4.93" fill="#0000FF"/>
<path d="M430.19 533.8 C430.19 533.8 430.19 533.8 437.08 529.04 C443.98 524.29 457.78 514.79 471.57 508.38 C485.37 501.97 499.16 498.66 512.96 492.49 C526.75 486.32 540.55 477.28 554.34 467.76 C568.14 458.23 581.93 448.22 595.73 437.9 C609.52 427.58 623.32 416.95 630.22 411.63 C637.11 406.31 637.11 406.31 637.11 406.31" fill="none" stroke="#000000" stroke-width="1.26" stroke-dasharray="5.89 3.91 1.26 3.91" stroke-linejoin="round"/>
<rect x="426.27" y="529.88" width="7.82" height="7.82" fill="#fff" stroke="#333" stroke-width="0.97"/><rect x="429.69" y="533.3" width="1" height="1" fill="#aaa"/>
<rect x="467.66" y="501.37" width="7.82" height="7.82" fill="#fff" stroke="#333" stroke-width="0.97"/><rect x="471.07" y="504.78" width="1" height="1" fill="#aaa"/>
<rect x="509.04" y="491.44" width="7.82" height="7.82" fill="#fff" stroke="#333" stroke-width="0.97"/><rect x="512.46" y="494.85" width="1" height="1" fill="#aaa"/>
<rect x="550.43" y="464.33" width="7.82" height="7.82" fill="#fff" stroke="#333" stroke-width="0.97"/><rect x="553.84" y="467.74" width="1" height="1" fill="#aaa"/>
<rect x="591.82" y="434.3" width="7.82" height="7.82" fill="#fff" stroke="#333" stroke-width="0.97"/><rect x="595.23" y="437.71" width="1" height="1" fill="#aaa"/>
<rect x="633.2" y="402.4" width="7.82" height="7.82" fill="#fff" stroke="#333" stroke-width="0.97"/><rect x="636.61" y="405.81" width="1" height="1" fill="#aaa"/>
<path d="M430.19 546.18 C430.19 546.18 430.19 546.18 437.08 546.2 C443.98 546.22 457.78 546.26 471.57 543.83 C485.37 541.39 499.16 536.48 512.96 532.22 C526.75 527.95 540.55 524.33 554.34 520.55 C568.14 516.78 581.93 512.84 595.73 509.02 C609.52 505.21 623.32 501.51 630.22 499.66 C637.11 497.81 637.11 497.81 637.11 497.81" fill="none" stroke="#FF0000" stroke-width="1.26" stroke-dasharray="5.89 3.91 1.26 3.91" stroke-linejoin="round"/>
<path d="M430.19 540.97 L431.53 544.33 L435.15 544.57 L432.37 546.89 L433.25 550.4 L430.19 548.48 L427.12 550.4 L428 546.89 L425.22 544.57 L428.84 544.33Z" fill="#fff" stroke="#FF0000" stroke-width="0.97" stroke-linejoin="miter"/><rect x="429.69" y="545.68" width="1" height="1" fill="#faa"/>
<path d="M471.57 541.08 L472.92 544.44 L476.53 544.69 L473.75 547.01 L474.64 550.52 L471.57 548.59 L468.51 550.52 L469.39 547.01 L466.61 544.69 L470.22 544.44Z" fill="#fff" stroke="#FF0000" stroke-width="0.97" stroke-linejoin="miter"/><rect x="471.07" y="545.8" width="1" height="1" fill="#faa"/>
<path d="M512.96 526.36 L514.31 529.72 L517.92 529.96 L515.14 532.29 L516.02 535.8 L512.96 533.87 L509.89 535.8 L510.77 532.29 L508 529.96 L511.61 529.72Z" fill="#fff" stroke="#FF0000" stroke-width="0.97" stroke-linejoin="miter"/><rect x="512.46" y="531.08" width="1" height="1" fill="#faa"/>
<path d="M554.34 515.49 L555.69 518.85 L559.3 519.1 L556.53 521.42 L557.41 524.93 L554.34 523 L551.28 524.93 L552.16 521.42 L549.38 519.1 L552.99 518.85Z" fill="#fff" stroke="#FF0000" stroke-width="0.97" stroke-linejoin="miter"/><rect x="553.84" y="520.21" width="1" height="1" fill="#faa"/>
<path d="M595.73 503.69 L597.08 507.05 L600.69 507.3 L597.91 509.62 L598.79 513.13 L595.73 511.2 L592.66 513.13 L593.55 509.62 L590.77 507.3 L594.38 507.05Z" fill="#fff" stroke="#FF0000" stroke-width="0.97" stroke-linejoin="miter"/><rect x="595.23" y="508.41" width="1" height="1" fill="#faa"/>
<path d="M637.11 492.59 L638.46 495.95 L642.08 496.19 L639.3 498.52 L640.18 502.03 L637.11 500.1 L634.05 502.03 L634.93 498.52 L632.15 496.19 L635.77 495.95Z" fill="#fff" stroke="#FF0000" stroke-width="0.97" stroke-linejoin="miter"/><rect x="636.61" y="497.31" width="1" height="1" fill="#faa"/>
<path d="M430.19 537.18 C430.19 537.18 430.19 537.18 437.08 533.87 C443.98 530.56 457.78 523.94 471.57 514.2 C485.37 504.47 499.16 491.61 512.96 480.32 C526.75 469.02 540.55 459.28 554.34 448.71 C568.14 438.14 581.93 426.72 595.73 412.84 C609.52 398.95 623.32 382.59 630.22 374.41 C637.11 366.23 637.11 366.23 637.11 366.23" fill="none" stroke="#0000FF" stroke-width="1.26" stroke-dasharray="5.89 3.91 1.26 3.91" stroke-linejoin="round"/>
<circle cx="430.19" cy="537.18" r="4.44" fill="#fff" stroke="#0000FF" stroke-width="0.97"/><rect x="429.69" y="536.68" width="1" height="1" fill="#aaf"/>
<circle cx="471.57" cy="517.32" r="4.44" fill="#fff" stroke="#0000FF" stroke-width="0.97"/><rect x="471.07" y="516.82" width="1" height="1" fill="#aaf"/>
<circle cx="512.96" cy="478.76" r="4.44" fill="#fff" stroke="#0000FF" stroke-width="0.97"/><rect x="512.46" y="478.26" width="1" height="1" fill="#aaf"/>
<circle cx="554.34" cy="449.55" r="4.44" fill="#fff" stroke="#0000FF" stroke-width="0.97"/><rect x="553.84" y="449.05" width="1" height="1" fill="#aaf"/>
<circle cx="595.73" cy="415.31" r="4.44" fill="#fff" stroke="#0000FF" stroke-width="0.97"/><rect x="595.23" y="414.81" width="1" height="1" fill="#aaf"/>
<circle cx="637.11" cy="366.23" r="4.44" fill="#fff" stroke="#0000FF" stroke-width="0.97"/><rect x="636.61" y="365.73" width="1" height="1" fill="#aaf"/>
</g>
<rect x="388.8" y="355.6" width="289.7" height="233.7" fill="none" stroke="#222" stroke-width="1.26"/>
<path d="M388.8 589.3V584.86 M430.19 589.3V584.86 M471.57 589.3V584.86 M512.96 589.3V584.86 M554.34 589.3V584.86 M595.73 589.3V584.86 M637.11 589.3V584.86 M678.5 589.3V584.86 M409.49 589.3V586.98 M450.88 589.3V586.98 M492.26 589.3V586.98 M533.65 589.3V586.98 M575.04 589.3V586.98 M616.42 589.3V586.98 M657.81 589.3V586.98 M388.8 589.3H393.24 M388.8 472.45H393.24 M388.8 355.6H393.24 M388.8 530.88H391.12 M388.8 414.03H391.12" stroke="#222" stroke-width="1.16" fill="none"/>
<text x="388.8" y="605.72" font-size="14.8" text-anchor="middle">4</text>
<text x="430.19" y="605.72" font-size="14.8" text-anchor="middle">5</text>
<text x="471.57" y="605.72" font-size="14.8" text-anchor="middle">6</text>
<text x="512.96" y="605.72" font-size="14.8" text-anchor="middle">7</text>
<text x="554.34" y="605.72" font-size="14.8" text-anchor="middle">8</text>
<text x="595.73" y="605.72" font-size="14.8" text-anchor="middle">9</text>
<text x="637.11" y="605.72" font-size="14.8" text-anchor="middle">10</text>
<text x="678.5" y="605.72" font-size="14.8" text-anchor="middle">11</text>
<text x="383.39" y="593.74" font-size="14.8" text-anchor="end">0.0</text>
<text x="383.39" y="476.89" font-size="14.8" text-anchor="end">0.1</text>
<text x="383.39" y="360.04" font-size="14.8" text-anchor="end">0.2</text>
<text x="533.65" y="630.07" font-size="15.46" text-anchor="middle">FQ (kg)</text>
<text x="533.65" y="659.2" font-size="17.39" text-anchor="middle">(d)</text>
<text transform="translate(357 472.45) rotate(-90)" font-size="15.07" text-anchor="middle"><tspan font-style="italic">E</tspan><tspan font-size="10.55" dy="3.09">pp</tspan><tspan dy="-3.09"> (kW)</tspan></text>
<rect x="393.3" y="359.4" width="166.1" height="34" fill="#fff" stroke="#aaa" stroke-width="1"/>
<path d="M393.3 367.49H425.65" stroke="#000000" stroke-width="1.26"/>
<rect x="405.61" y="363.43" width="8.11" height="8.11" fill="#000000"/>
<text x="428.93" y="372.5" font-size="14.49">C1;</text>
<path d="M450.11 367.49H482.46" stroke="#FF0000" stroke-width="1.26"/>
<path d="M466.48 361.79 L467.95 365.46 L471.9 365.73 L468.87 368.26 L469.83 372.1 L466.48 370 L463.13 372.1 L464.1 368.26 L461.06 365.73 L465.01 365.46Z" fill="#FF0000"/>
<text x="485.74" y="372.5" font-size="14.49">C2;</text>
<path d="M506.92 367.49H539.28" stroke="#0000FF" stroke-width="1.26"/>
<circle cx="523.29" cy="367.49" r="4.93" fill="#0000FF"/>
<text x="542.55" y="372.5" font-size="14.49">C3</text>
<path d="M393.3 385.3H425.65" stroke="#000000" stroke-width="1.26" stroke-dasharray="5.89 3.91 1.26 3.91"/>
<rect x="405.76" y="381.39" width="7.82" height="7.82" fill="#fff" stroke="#333" stroke-width="0.97"/><rect x="409.17" y="384.8" width="1" height="1" fill="#aaa"/>
<text x="428.93" y="390.31" font-size="14.49">C4;</text>
<path d="M450.11 385.3H482.46" stroke="#FF0000" stroke-width="1.26" stroke-dasharray="5.89 3.91 1.26 3.91"/>
<path d="M466.48 380.09 L467.83 383.45 L471.44 383.69 L468.66 386.01 L469.55 389.52 L466.48 387.6 L463.41 389.52 L464.3 386.01 L461.52 383.69 L465.13 383.45Z" fill="#fff" stroke="#FF0000" stroke-width="0.97" stroke-linejoin="miter"/><rect x="465.98" y="384.8" width="1" height="1" fill="#faa"/>
<text x="485.74" y="390.31" font-size="14.49">C5;</text>
<path d="M506.92 385.3H539.28" stroke="#0000FF" stroke-width="1.26" stroke-dasharray="5.89 3.91 1.26 3.91"/>
<circle cx="523.29" cy="385.3" r="4.44" fill="#fff" stroke="#0000FF" stroke-width="0.97"/><rect x="522.79" y="384.8" width="1" height="1" fill="#aaf"/>
<text x="542.55" y="390.31" font-size="14.49">C6</text>
</svg>
</body></html>
